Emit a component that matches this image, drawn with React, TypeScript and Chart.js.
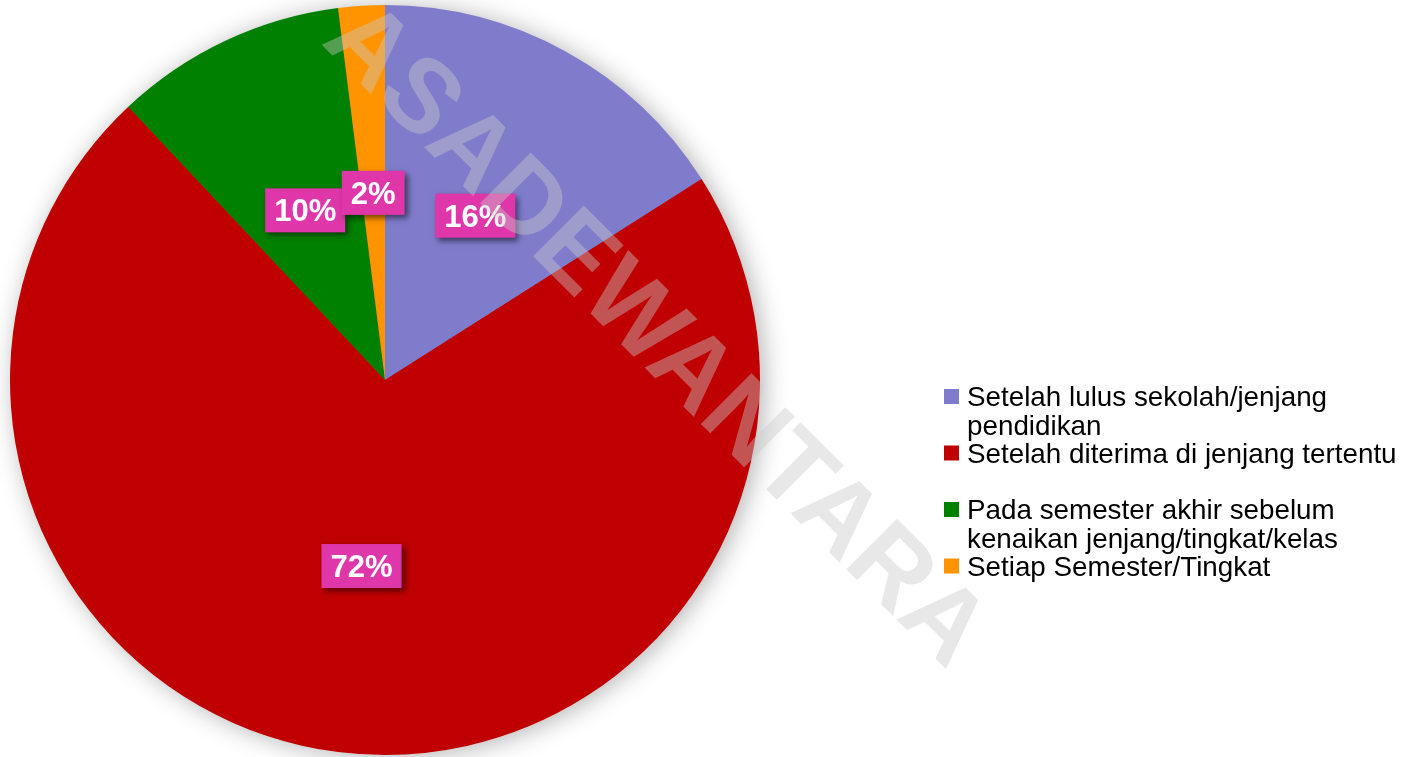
import React, { useEffect, useRef } from "react";
import { Chart, registerables } from "chart.js";

Chart.register(...registerables);

const categories: string[][] = [
  ["Setelah lulus sekolah/jenjang", "pendidikan"],
  ["Setelah diterima di jenjang tertentu"],
  ["Pada semester akhir sebelum", "kenaikan jenjang/tingkat/kelas"],
  ["Setiap Semester/Tingkat"],
];
const values: number[] = [16, 72, 10, 2];
const colors: string[] = ["#807CCC", "#C00000", "#008000", "#FF9400"];
const watermark = "ASADEWANTARA";

const FONT = '"Liberation Sans", Arial, sans-serif';

const shadowPlugin = {
  id: "pieShadow",
  beforeDatasetsDraw(chart: any) {
    const meta = chart.getDatasetMeta(0);
    const arc = meta.data[0];
    if (!arc) return;
    const { x, y, outerRadius } = arc.getProps(["x", "y", "outerRadius"], true);
    const ctx = chart.ctx;
    ctx.save();
    ctx.shadowColor = "rgba(0,0,0,0.32)";
    ctx.shadowBlur = 26;
    ctx.shadowOffsetX = 4;
    ctx.shadowOffsetY = 2;
    ctx.fillStyle = "#a04040";
    ctx.beginPath();
    ctx.arc(x, y, outerRadius - 1, 0, Math.PI * 2);
    ctx.fill();
    ctx.restore();
  },
};

const labelPlugin = {
  id: "pctLabels",
  afterDatasetsDraw(chart: any) {
    const ctx = chart.ctx;
    const meta = chart.getDatasetMeta(0);
    const data = chart.data.datasets[0].data as number[];
    const total = data.reduce((a, b) => a + b, 0);
    meta.data.forEach((el: any, i: number) => {
      const p = el.tooltipPosition(true);
      const text = Math.round((data[i] / total) * 100) + "%";
      ctx.save();
      ctx.font = `bold 31px ${FONT}`;
      const w = ctx.measureText(text).width + 18;
      const h = 44;
      ctx.shadowColor = "rgba(0,0,0,0.55)";
      ctx.shadowBlur = 6;
      ctx.shadowOffsetX = 3;
      ctx.shadowOffsetY = 3;
      ctx.fillStyle = "#DF37AA";
      ctx.fillRect(p.x - w / 2, p.y - h / 2, w, h);
      ctx.shadowColor = "transparent";
      ctx.fillStyle = "#ffffff";
      ctx.textAlign = "center";
      ctx.textBaseline = "alphabetic";
      ctx.fillText(text, p.x, p.y + 11);
      ctx.restore();
    });
  },
};

const legendPlugin = {
  id: "customLegend",
  afterDraw(chart: any) {
    const ctx = chart.ctx;
    const labels = chart.data.labels as string[][];
    const bg = chart.data.datasets[0].backgroundColor as string[];
    const x0 = 944;
    const firstBaseline = 406;
    const step = 56.5;
    const lineH = 29;
    ctx.save();
    ctx.font = `27.8px ${FONT}`;
    ctx.textAlign = "left";
    ctx.textBaseline = "alphabetic";
    labels.forEach((lines, i) => {
      const by = firstBaseline + i * step;
      ctx.fillStyle = bg[i];
      ctx.fillRect(x0, by - 17, 15, 15);
      ctx.fillStyle = "#000000";
      lines.forEach((ln, j) => {
        ctx.fillText(ln, 967, by + j * lineH);
      });
    });
    ctx.restore();
  },
};

const watermarkPlugin = {
  id: "watermark",
  afterDraw(chart: any) {
    const ctx = chart.ctx;
    ctx.save();
    ctx.translate(320, 43);
    ctx.rotate(Math.PI / 4);
    ctx.font = `bold 104px ${FONT}`;
    ctx.textAlign = "left";
    ctx.textBaseline = "alphabetic";
    ctx.fillStyle = "rgba(200,200,200,0.42)";
    ctx.fillText(watermark, 0, 0);
    ctx.restore();
  },
};

export default function App() {
  const ref = useRef<HTMLCanvasElement | null>(null);
  useEffect(() => {
    document.body.style.margin = "0";
    const canvas = ref.current;
    if (!canvas) return;
    const chart = new Chart(canvas, {
      type: "pie",
      data: {
        labels: categories as any,
        datasets: [
          {
            data: values,
            backgroundColor: colors,
            borderWidth: 0,
          },
        ],
      },
      options: {
        animation: false,
        responsive: false,
        devicePixelRatio: 1,
        layout: { padding: { left: 10, top: 5, right: 646, bottom: 2 } },
        plugins: {
          legend: { display: false },
          tooltip: { enabled: false },
        },
      },
      plugins: [shadowPlugin, labelPlugin, legendPlugin, watermarkPlugin],
    });
    return () => chart.destroy();
  }, []);
  return (
    <div style={{ width: 1406, height: 757, background: "#ffffff" }}>
      <canvas ref={ref} width={1406} height={757} />
    </div>
  );
}
